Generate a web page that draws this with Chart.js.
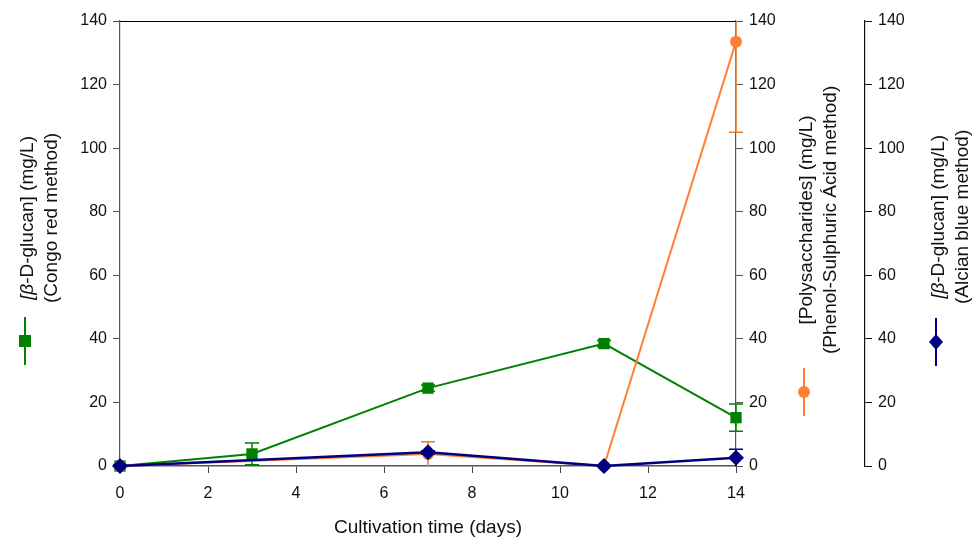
<!DOCTYPE html>
<html>
<head>
<meta charset="utf-8">
<script src="https://cdn.jsdelivr.net/npm/chart.js"></script>
<style>
  html, body { margin: 0; padding: 0; background: #fff; }
  #chart { display: block; }
</style>
</head>
<body>
<canvas id="chart" width="977" height="543"></canvas>
<script>
// ---- data ----
const congoDays = [0, 3, 7, 11, 14];
const congoVals = [0, 3.8, 24.5, 38.5, 15.2];
const congoErr  = [0.5, 3.4, 1, 1, 4.3];

const phenolDays = [0, 7, 11, 14];
const phenolVals = [0, 3.8, 0, 133.5];
const phenolErr  = [0, 3.8, 0.4, 28.5];

const alcianDays = [0, 7, 11, 14];
const alcianVals = [0, 4.3, 0, 2.6];
const alcianErr  = [0, 0.5, 0, 2.7];

const xTicks = [0, 2, 4, 6, 8, 10, 12, 14];
const yTicks = [0, 20, 40, 60, 80, 100, 120, 140];

const GREEN  = '#008000';
const ORANGE = '#ff8033';
const NAVY   = '#000080';
const FONT   = '"Liberation Sans", Arial, sans-serif';

const toPoints = (xs, ys) => xs.map((x, i) => ({ x: x, y: ys[i] }));

// ---- error bars ----
const errorBars = {
  id: 'errorBars',
  beforeDatasetDraw(chart, args) {
    const ds = chart.data.datasets[args.index];
    if (!ds.err) return;
    const ctx = chart.ctx;
    const xs = chart.scales.x;
    const ys = chart.scales[ds.yAxisID];
    const area = chart.chartArea;
    ctx.save();
    ctx.strokeStyle = ds.errColor || ds.borderColor;
    ctx.lineWidth = 1.5;
    ds.data.forEach((p, i) => {
      const e = ds.err[i];
      if (!e) return;
      const px = xs.getPixelForValue(p.x);
      let top = ys.getPixelForValue(p.y + e);
      let bot = ys.getPixelForValue(p.y - e);
      const topIn = top >= area.top;
      const botIn = bot <= area.bottom;
      top = Math.max(top, area.top);
      bot = Math.min(bot, area.bottom);
      ctx.beginPath();
      ctx.moveTo(px, top);
      ctx.lineTo(px, bot);
      if (topIn) { ctx.moveTo(px - 7, top); ctx.lineTo(px + 7, top); }
      if (botIn && bot < area.bottom - 1) { ctx.moveTo(px - 7, bot); ctx.lineTo(px + 7, bot); }
      ctx.stroke();
    });
    ctx.restore();
  }
};

// ---- axis titles with their little series markers, top border ----
function drawMarker(ctx, style, x, y, color) {
  ctx.save();
  ctx.strokeStyle = color;
  ctx.fillStyle = color;
  ctx.lineWidth = 2;
  ctx.beginPath();
  ctx.moveTo(x, y - 24);
  ctx.lineTo(x, y + 24);
  ctx.stroke();
  ctx.beginPath();
  if (style === 'rect') {
    ctx.rect(x - 6, y - 6, 12, 12);
  } else if (style === 'circle') {
    ctx.arc(x, y, 6, 0, Math.PI * 2);
  } else {
    ctx.moveTo(x, y - 8); ctx.lineTo(x + 7, y); ctx.lineTo(x, y + 8); ctx.lineTo(x - 7, y); ctx.closePath();
  }
  ctx.fill();
  ctx.restore();
}

function drawRotLine(ctx, parts, cx, cy) {
  // parts: [[text, italic], ...] drawn rotated -90deg, centred on (cx, cy)
  ctx.save();
  ctx.translate(cx, cy);
  ctx.rotate(-Math.PI / 2);
  ctx.textBaseline = 'middle';
  ctx.textAlign = 'left';
  const total = lineWidth(ctx, parts);
  let x = -total / 2;
  parts.forEach(p => {
    ctx.font = (p[1] ? 'italic ' : '') + '19px ' + FONT;
    ctx.fillText(p[0], x, 0);
    x += ctx.measureText(p[0]).width;
  });
  ctx.restore();
}

function lineWidth(ctx, parts) {
  let w = 0;
  parts.forEach(p => {
    ctx.font = (p[1] ? 'italic ' : '') + '19px ' + FONT;
    w += ctx.measureText(p[0]).width;
  });
  return w;
}

function drawAxisTitle(ctx, lines, markerX, markerY, style, color) {
  const w = Math.max(...lines.map(l => lineWidth(ctx, l)));
  const textCenterY = markerY - 24 - 14 - w / 2;
  ctx.fillStyle = '#111';
  lines.forEach((l, i) => drawRotLine(ctx, l, markerX + 3 + i * 24, textCenterY));
  drawMarker(ctx, style, markerX, markerY, color);
}

const decorations = {
  id: 'decorations',
  afterDraw(chart) {
    const ctx = chart.ctx;
    const a = chart.chartArea;
    const s = chart.scales;
    ctx.save();
    // top border of the plot
    ctx.strokeStyle = '#000';
    ctx.lineWidth = 1;
    ctx.beginPath();
    ctx.moveTo(a.left, a.top + 0.5);
    ctx.lineTo(a.right, a.top + 0.5);
    ctx.stroke();

    drawAxisTitle(ctx,
      [[['[\u03B2', true], ['-D-glucan] (mg/L)', false]], [['(Congo red method)', false]]],
      s.y.left + 25, 341, 'rect', GREEN);
    drawAxisTitle(ctx,
      [[['[Polysaccharides] (mg/L)', false]], [['(Phenol-Sulphuric \u00C1cid method)', false]]],
      s.y2.left + 68, 392, 'circle', ORANGE);
    drawAxisTitle(ctx,
      [[['[\u03B2', true], ['-D-glucan] (mg/L)', false]], [['(Alcian blue method)', false]]],
      s.y3.left + 71, 342, 'diamond', NAVY);

    // x axis title
    ctx.fillStyle = '#111';
    ctx.font = '19px ' + FONT;
    ctx.textAlign = 'center';
    ctx.textBaseline = 'middle';
    ctx.fillText('Cultivation time (days)', (a.left + a.right) / 2, 528);
    ctx.restore();
  }
};

function yScale(position, width, borderColor) {
  return {
    type: 'linear',
    position: position,
    min: 0,
    max: 140,
    afterBuildTicks: sc => { sc.ticks = yTicks.map(v => ({ value: v })); },
    afterFit: sc => { sc.width = width; },
    grid: { drawOnChartArea: false, drawTicks: true, tickLength: 7, color: borderColor },
    border: { display: true, color: borderColor, width: 1.2 },
    ticks: { color: '#111', padding: 6, font: { family: FONT, size: 16 } }
  };
}

new Chart(document.getElementById('chart'), {
  type: 'line',
  data: {
    datasets: [
      {
        label: 'Congo red',
        data: toPoints(congoDays, congoVals),
        err: congoErr,
        yAxisID: 'y',
        borderColor: GREEN,
        backgroundColor: GREEN,
        borderWidth: 2,
        pointStyle: 'rect',
        pointRadius: 8,
        pointBorderWidth: 0,
        tension: 0,
        clip: false,
        order: 3
      },
      {
        label: 'Phenol-Sulphuric',
        data: toPoints(phenolDays, phenolVals),
        err: phenolErr,
        errColor: '#f07a2a',
        yAxisID: 'y2',
        borderColor: ORANGE,
        backgroundColor: ORANGE,
        borderWidth: 2,
        pointStyle: 'circle',
        pointRadius: 6,
        pointBorderWidth: 0,
        tension: 0,
        clip: false,
        order: 2
      },
      {
        label: 'Alcian blue',
        data: toPoints(alcianDays, alcianVals),
        err: alcianErr,
        yAxisID: 'y3',
        borderColor: NAVY,
        backgroundColor: NAVY,
        borderWidth: 2.5,
        pointStyle: 'rectRot',
        pointRadius: 8,
        pointBorderWidth: 0,
        tension: 0,
        clip: false,
        order: 1
      }
    ]
  },
  options: {
    responsive: false,
    animation: false,
    devicePixelRatio: 1,
    layout: { padding: { top: 21, left: 0, right: 0, bottom: 0 } },
    plugins: { legend: { display: false }, tooltip: { enabled: false } },
    scales: {
      x: {
        type: 'linear',
        min: 0,
        max: 14,
        afterBuildTicks: sc => { sc.ticks = xTicks.map(v => ({ value: v })); },
        afterFit: sc => { sc.height = 77; },
        grid: { drawOnChartArea: false, drawTicks: true, tickLength: 7, color: '#444' },
        border: { display: true, color: '#555', width: 1.5 },
        ticks: { color: '#111', padding: 11, maxRotation: 0, font: { family: FONT, size: 16 } }
      },
      y: yScale('left', 120, '#555'),
      y2: yScale('right', 129, '#555'),
      y3: yScale('right', 112, '#111')
    }
  },
  plugins: [errorBars, decorations]
});
</script>
</body>
</html>
